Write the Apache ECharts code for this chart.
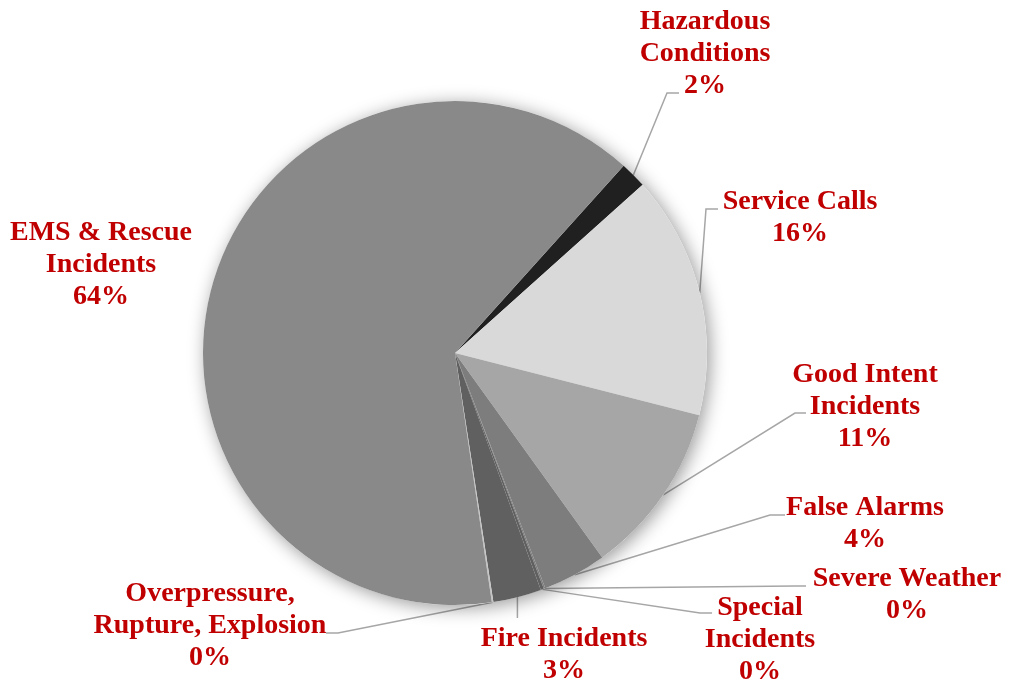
<!DOCTYPE html>
<html>
<head>
<meta charset="utf-8">
<script src="https://cdn.jsdelivr.net/npm/echarts@6/dist/echarts.min.js"></script>
<style>
    html, body { margin: 0; padding: 0; background: #fff; }
    #chart { width: 1010px; height: 684px; }
</style>
</head>
<body>
<div id="chart"></div>
<script>
// categories, clockwise from the black slice
var categories = ['Hazardous\nConditions', 'Service Calls', 'Good Intent\nIncidents', 'False Alarms',
    'Severe Weather', 'Special\nIncidents', 'Fire Incidents', 'Overpressure,\nRupture, Explosion',
    'EMS & Rescue\nIncidents'];
// share of incidents (%)
var shares = [1.7, 15.6, 11.1, 4.1, 0.1, 0.2, 3.1, 0.1, 64.0];

var sliceColors = ['#202020', '#d9d9d9', '#a6a6a6', '#7d7d7d', '#7d7d7d', '#606060', '#606060', '#c4c4c4', '#898989'];

// 标签中心位置
var labelPos = [[705, 54], [800, 218], [865, 407], [865, 524], [907, 595], [760, 640], [564, 655], [210, 626], [101, 265]];
// 引导线的折点和终点
var leaderPts = [
    [[667, 93], [679, 93]],
    [[706, 209], [718, 209]],
    [[795, 413], [806, 413]],
    [[770, 515], [785, 515]],
    [[795, 586], [806, 586]],
    [[700, 613], [712, 613]],
    [null, [null, 618]],
    [[338, 633], [326, 633]],
    null
];

var total = 0;
for (var i = 0; i < shares.length; i++) total += shares[i];

var pieData = [];
for (var i = 0; i < categories.length; i++) {
    var item = {
        name: categories[i],
        value: shares[i],
        itemStyle: { color: sliceColors[i] }
    };
    if (!leaderPts[i]) item.labelLine = { show: false };
    pieData.push(item);
}

var myChart = echarts.init(document.getElementById('chart'));

var option = {
    animation: false,
    backgroundColor: '#fff',
    series: [{
        // 阴影底盘
        type: 'pie',
        silent: true,
        center: [455, 353],
        radius: 252,
        label: { show: false },
        labelLine: { show: false },
        itemStyle: {
            color: '#fff',
            shadowBlur: 18,
            shadowColor: 'rgba(0,0,0,0.4)',
            shadowOffsetX: 3,
            shadowOffsetY: 3
        },
        data: [total]
    }, {
        type: 'pie',
        center: [455, 353],
        radius: 252,
        startAngle: 48,
        clockwise: true,
        avoidLabelOverlap: false,
        itemStyle: {
            borderWidth: 0
        },
        label: {
            show: true,
            position: 'outside',
            fontFamily: 'Liberation Serif, Times New Roman, serif',
            fontWeight: 'bold',
            fontSize: 28,
            lineHeight: 32,
            color: '#c00000',
            align: 'center',
            formatter: function (p) {
                return p.name + '\n' + Math.round(p.percent) + '%';
            }
        },
        labelLine: {
            show: true,
            lineStyle: { color: '#a6a6a6', width: 1.5 }
        },
        labelLayout: function (params) {
            var idx = params.dataIndex;
            var res = {
                x: labelPos[idx][0],
                y: labelPos[idx][1],
                align: 'center',
                verticalAlign: 'middle'
            };
            var lp = leaderPts[idx];
            if (lp && params.labelLinePoints) {
                var start = params.labelLinePoints[0];
                // 竖直引导线: 折点沿用起点的x
                var bend = lp[0] || [start[0], (start[1] + lp[1][1]) / 2];
                var end = [lp[1][0] == null ? start[0] : lp[1][0], lp[1][1]];
                res.labelLinePoints = [start, bend, end];
            }
            return res;
        },
        data: pieData
    }]
};

myChart.setOption(option);
</script>
</body>
</html>
